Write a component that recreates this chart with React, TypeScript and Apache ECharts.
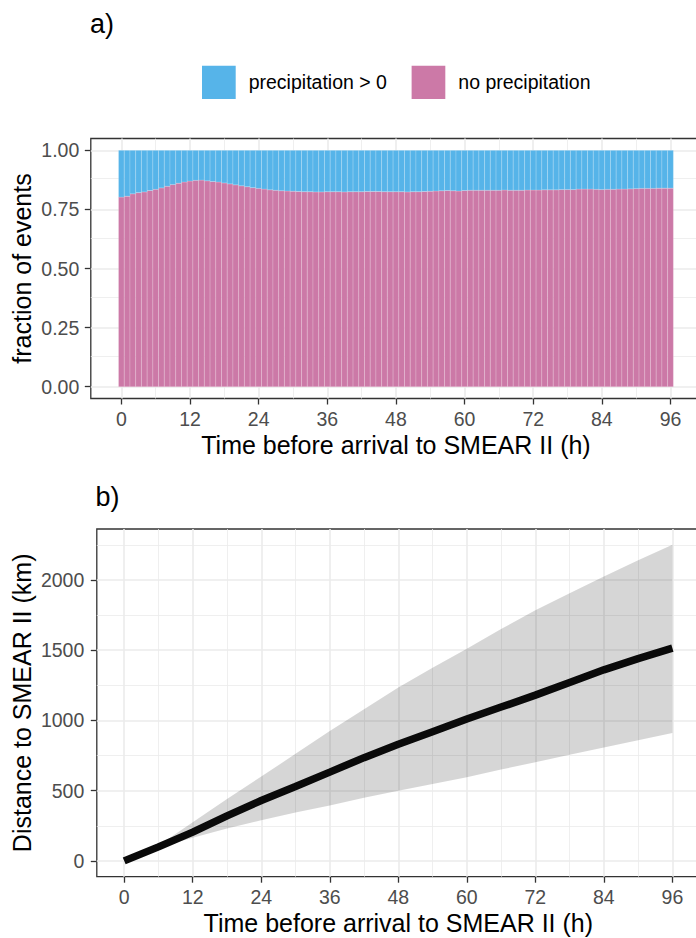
import React, { useEffect, useRef } from 'react';
import * as echarts from 'echarts';

const FONT = '"Liberation Sans", Arial, Helvetica, sans-serif';

// ---- panel a) data ----
const hours = Array.from({ length: 97 }, (_, i) => i);
const noPrecipFraction = [
  0.802, 0.806, 0.816, 0.821, 0.824, 0.830, 0.835, 0.841, 0.848, 0.855,
  0.861, 0.866, 0.870, 0.873, 0.874, 0.871, 0.868, 0.866, 0.862, 0.858,
  0.854, 0.850, 0.846, 0.842, 0.839, 0.836, 0.833, 0.831, 0.829, 0.828,
  0.827, 0.826, 0.825, 0.825, 0.824, 0.824, 0.825, 0.825, 0.825, 0.824,
  0.825, 0.825, 0.825, 0.826, 0.826, 0.826, 0.825, 0.825, 0.825, 0.825,
  0.824, 0.825, 0.825, 0.826, 0.827, 0.828, 0.829, 0.830, 0.829, 0.828,
  0.830, 0.831, 0.831, 0.831, 0.831, 0.831, 0.831, 0.832, 0.831, 0.831,
  0.831, 0.832, 0.832, 0.832, 0.833, 0.833, 0.833, 0.834, 0.834, 0.834,
  0.836, 0.836, 0.836, 0.835, 0.834, 0.835, 0.835, 0.836, 0.836, 0.837,
  0.838, 0.839, 0.839, 0.839, 0.840, 0.840, 0.840,
];
const precipFraction = noPrecipFraction.map((v) => Math.round((1 - v) * 1000) / 1000);

// ---- panel b) data ----
const hoursB = [0, 6, 12, 18, 24, 30, 36, 42, 48, 54, 60, 66, 72, 78, 84, 90, 96];
const medianDist = [0, 100, 205, 320, 430, 530, 632, 735, 830, 920, 1010, 1095, 1180, 1270, 1360, 1440, 1515];
const upperDist = [0, 110, 275, 440, 600, 762, 925, 1080, 1235, 1375, 1510, 1650, 1785, 1905, 2025, 2140, 2250];
const lowerDist = [0, 95, 165, 230, 290, 345, 395, 450, 500, 548, 595, 650, 702, 755, 808, 858, 910];

// ---- ticks ----
const xTicks = [0, 12, 24, 36, 48, 60, 72, 84, 96];
const xMinor = [6, 18, 30, 42, 54, 66, 78, 90];
const yTicksA = [0, 0.25, 0.5, 0.75, 1];
const yMinorA = [0.125, 0.375, 0.625, 0.875];
const yTicksB = [0, 500, 1000, 1500, 2000];
const yMinorB = [250, 750, 1250, 1750, 2250];

const xTitle = 'Time before arrival to SMEAR II (h)';

const MAJOR = { color: '#EBEBEB', width: 1.6, type: 'solid' as const };
const MINOR = { color: '#EBEBEB', width: 0.8, type: 'solid' as const };

function gridLines(xMaj: number[], xMin: number[], yMaj: number[], yMin: number[]) {
  return {
    silent: true,
    symbol: ['none', 'none'],
    z: 1,
    animation: false,
    label: { show: false },
    emphasis: { disabled: true },
    data: [
      ...xMin.map((v) => ({ xAxis: v, lineStyle: MINOR })),
      ...yMin.map((v) => ({ yAxis: v, lineStyle: MINOR })),
      ...xMaj.map((v) => ({ xAxis: v, lineStyle: MAJOR })),
      ...yMaj.map((v) => ({ yAxis: v, lineStyle: MAJOR })),
    ],
  };
}

const tickStyle = { length: 6, lineStyle: { color: '#333333', width: 1.3 } };
const labelBase = { fontSize: 19.5, color: '#4D4D4D', fontFamily: FONT };
const nameStyle = { fontSize: 25, color: '#000000', fontFamily: FONT };

function xAxisCfg(gridIndex: number, min: number, max: number) {
  return {
    type: 'value',
    gridIndex,
    min,
    max,
    axisLine: { show: false, onZero: false },
    splitLine: { show: false },
    minorSplitLine: { show: false },
    axisTick: { show: true, customValues: xTicks, ...tickStyle },
    axisLabel: { customValues: xTicks, margin: 10, ...labelBase },
    name: xTitle,
    nameLocation: 'middle',
    nameGap: 33.6,
    nameMoveOverlap: false,
    nameTextStyle: nameStyle,
  };
}

function yAxisCfg(
  gridIndex: number,
  min: number,
  max: number,
  ticks: number[],
  name: string,
  nameGap: number,
  margin: number,
  fmt: (v: number) => string,
) {
  return {
    type: 'value',
    gridIndex,
    min,
    max,
    axisLine: { show: false, onZero: false },
    splitLine: { show: false },
    minorSplitLine: { show: false },
    axisTick: { show: true, customValues: ticks, ...tickStyle },
    axisLabel: { customValues: ticks, margin, formatter: fmt, ...labelBase },
    name,
    nameLocation: 'middle',
    nameGap,
    nameMoveOverlap: false,
    nameTextStyle: nameStyle,
  };
}

// bar drawn from value(1) to value(2) over hour value(0), one hour wide
function barRender(fill: string) {
  return (params: any, api: any) => {
    const h = api.value(0);
    const p0 = api.coord([h - 0.5, api.value(2)]);
    const p1 = api.coord([h + 0.5, api.value(1)]);
    return {
      type: 'rect',
      shape: { x: p0[0], y: p0[1], width: p1[0] - p0[0], height: p1[1] - p0[1] },
      style: { fill, stroke: 'rgba(255,255,255,0.3)', lineWidth: 0.6 },
    };
  };
}

const PINK = '#CC79A7';
const BLUE = '#56B4E9';

const option: any = {
  animation: false,
  backgroundColor: '#ffffff',
  textStyle: { fontFamily: FONT },
  graphic: [
    {
      type: 'text',
      x: 90,
      y: 24,
      silent: true,
      style: { text: 'a)', fontSize: 27, fontFamily: FONT, fill: '#000', verticalAlign: 'middle', align: 'left' },
    },
    {
      type: 'text',
      x: 95.5,
      y: 497,
      silent: true,
      style: { text: 'b)', fontSize: 27, fontFamily: FONT, fill: '#000', verticalAlign: 'middle', align: 'left' },
    },
  ],
  legend: {
    left: 202,
    top: 65.7,
    padding: 0,
    orient: 'horizontal',
    icon: 'rect',
    itemWidth: 33.7,
    itemHeight: 33.3,
    itemGap: 24.7,
    selectedMode: false,
    itemStyle: { borderWidth: 0 },
    textStyle: { fontSize: 19.5, color: '#000', fontFamily: FONT, padding: [0, 0, 0, 8] },
    data: [
      { name: 'precipitation > 0', itemStyle: { color: BLUE } },
      { name: 'no precipitation', itemStyle: { color: PINK } },
    ],
  },
  grid: [
    { left: 90.8, top: 138.5, width: 610.3, height: 260, show: true, borderColor: '#333333', borderWidth: 1.3, backgroundColor: 'transparent', outerBoundsMode: 'none', containLabel: false },
    { left: 96.8, top: 529, width: 603, height: 347.7, show: true, borderColor: '#333333', borderWidth: 1.3, backgroundColor: 'transparent', outerBoundsMode: 'none', containLabel: false },
  ],
  xAxis: [xAxisCfg(0, -5.35, 101.35), xAxisCfg(1, -4.8, 100.8)],
  yAxis: [
    yAxisCfg(0, -0.05, 1.05, yTicksA, 'fraction of events', 56.5, 11.5, (v: number) => v.toFixed(2)),
    yAxisCfg(1, -112.5, 2362.5, yTicksB, 'Distance to SMEAR II (km)', 62, 12.5, (v: number) => String(v)),
  ],
  series: [
    {
      name: 'no precipitation',
      type: 'custom',
      xAxisIndex: 0,
      yAxisIndex: 0,
      z: 2,
      itemStyle: { color: PINK },
      data: hours.map((h, i) => [h, 0, noPrecipFraction[i]]),
      encode: { x: 0, y: [1, 2] },
      renderItem: barRender(PINK),
      markLine: gridLines(xTicks, xMinor, yTicksA, yMinorA),
    },
    {
      name: 'precipitation > 0',
      type: 'custom',
      xAxisIndex: 0,
      yAxisIndex: 0,
      z: 2,
      itemStyle: { color: BLUE },
      data: hours.map((h, i) => [h, noPrecipFraction[i], noPrecipFraction[i] + precipFraction[i]]),
      encode: { x: 0, y: [1, 2] },
      renderItem: barRender(BLUE),
    },
    {
      name: 'band',
      type: 'custom',
      xAxisIndex: 1,
      yAxisIndex: 1,
      z: 2,
      data: hoursB.map((h, i) => [h, lowerDist[i], upperDist[i]]),
      encode: { x: 0, y: [1, 2] },
      renderItem: (params: any, api: any) => {
        if (params.dataIndex !== 0) return null;
        const pts: number[][] = [];
        for (let i = 0; i < hoursB.length; i++) pts.push(api.coord([hoursB[i], upperDist[i]]));
        for (let i = hoursB.length - 1; i >= 0; i--) pts.push(api.coord([hoursB[i], lowerDist[i]]));
        return { type: 'polygon', shape: { points: pts }, style: { fill: 'rgba(0,0,0,0.16)' } };
      },
      markLine: gridLines(xTicks, xMinor, yTicksB, yMinorB),
    },
    {
      name: 'median',
      type: 'line',
      xAxisIndex: 1,
      yAxisIndex: 1,
      symbol: 'none',
      showSymbol: false,
      z: 3,
      lineStyle: { color: '#0A0A0A', width: 7.5 },
      data: hoursB.map((h, i) => [h, medianDist[i]]),
      emphasis: { disabled: true },
    },
  ],
};

export default function App() {
  const ref = useRef<HTMLDivElement>(null);
  useEffect(() => {
    if (!ref.current) return;
    const chart = echarts.init(ref.current, null, { renderer: 'svg' });
    chart.setOption(option);
    return () => chart.dispose();
  }, []);
  return (
    <div
      ref={ref}
      style={{ position: 'fixed', left: 0, top: 0, width: 696, height: 938, background: '#ffffff' }}
    />
  );
}
